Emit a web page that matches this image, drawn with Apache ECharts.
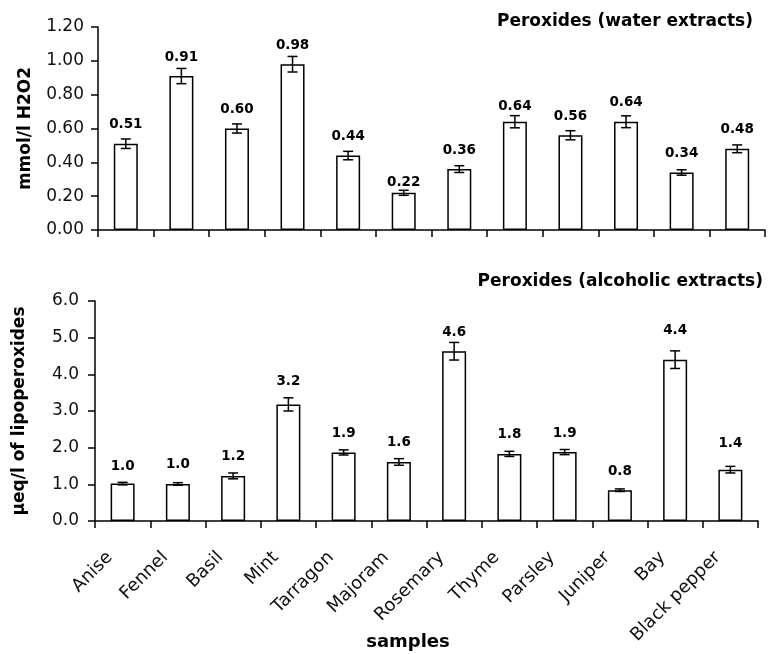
<!DOCTYPE html>
<html>
<head>
<meta charset="utf-8">
<script src="https://cdn.jsdelivr.net/npm/echarts@6/dist/echarts.min.js"></script>
<style>
html,body{margin:0;padding:0;background:#fff;}
#chart{width:768px;height:654px;}
</style>
</head>
<body>
<div id="chart"></div>
<script>
// ---- data ----
const categories = ['Anise','Fennel','Basil','Mint','Tarragon','Majoram','Rosemary','Thyme','Parsley','Juniper','Bay','Black pepper'];
const waterValues = [0.51, 0.91, 0.60, 0.98, 0.44, 0.22, 0.36, 0.64, 0.56, 0.64, 0.34, 0.48];
const waterErrors = [0.028, 0.045, 0.027, 0.046, 0.025, 0.015, 0.02, 0.036, 0.027, 0.035, 0.016, 0.023];
const alcoholValues = [1.02, 1.01, 1.23, 3.18, 1.87, 1.61, 4.63, 1.83, 1.88, 0.84, 4.40, 1.40];
const alcoholErrors = [0.035, 0.035, 0.08, 0.18, 0.07, 0.09, 0.24, 0.07, 0.07, 0.035, 0.24, 0.09];
const waterTicks = [0, 1.2, 0.2];   // min, max, interval
const alcoholTicks = [0, 6, 1];

// per-label vertical nudges (px) seen in the reference
const waterLabelNudge = {5: 9, 7: 4};
const alcoholLabelNudge = {0: 2, 3: -4, 10: -10, 11: -7};

const FONT = 'DejaVu Sans';
const chart = echarts.init(document.getElementById('chart'));

function barData(vals, nudge, digits) {
  return vals.map((v, i) => ({
    value: v,
    label: { offset: [0, nudge[i] || 0], formatter: () => v.toFixed(digits) }
  }));
}
function errData(vals, errs) {
  return vals.map((v, i) => [i, v, errs[i]]);
}
function errRender(params, api) {
  const x = api.value(0), y = api.value(1), e = api.value(2);
  const t = api.coord([x, y + e]);
  const b = api.coord([x, y - e]);
  const hw = 5;
  const st = { stroke: '#000', lineWidth: 1.5 };
  return {
    type: 'group',
    children: [
      { type: 'line', shape: { x1: t[0], y1: t[1], x2: b[0], y2: b[1] }, style: st },
      { type: 'line', shape: { x1: t[0] - hw, y1: t[1], x2: t[0] + hw, y2: t[1] }, style: st },
      { type: 'line', shape: { x1: b[0] - hw, y1: b[1], x2: b[0] + hw, y2: b[1] }, style: st }
    ]
  };
}

const axisLine = { show: true, lineStyle: { color: '#000', width: 1.5 } };
const axisTick = { show: true, length: 7, lineStyle: { color: '#000', width: 1.5 } };

const option = {
  backgroundColor: '#fff',
  animation: false,
  title: [
    { text: 'Peroxides (water extracts)', right: 15, top: 13, padding: 0,
      textStyle: { fontFamily: FONT, fontSize: 17, fontWeight: 'bold', color: '#000' } },
    { text: 'Peroxides (alcoholic extracts)', right: 5, top: 273, padding: 0,
      textStyle: { fontFamily: FONT, fontSize: 17, fontWeight: 'bold', color: '#000' } }
  ],
  grid: [
    { left: 98, right: 3, top: 27, height: 203, containLabel: false, outerBoundsMode: 'none' },
    { left: 95, right: 10, top: 301, height: 220, containLabel: false, outerBoundsMode: 'none' }
  ],
  xAxis: [
    { type: 'category', gridIndex: 0, data: categories, boundaryGap: true,
      axisLine: axisLine, axisTick: { ...axisTick, interval: 0 }, axisLabel: { show: false },
      splitLine: { show: false } },
    { type: 'category', gridIndex: 1, data: categories, boundaryGap: true,
      axisLine: axisLine, axisTick: { ...axisTick, interval: 0 },
      axisLabel: { interval: 0, rotate: 45, margin: 21, padding: [0, 18, 0, 0], fontFamily: FONT, fontSize: 18, color: '#111' },
      splitLine: { show: false },
      name: 'samples', nameLocation: 'middle', nameGap: 112, nameMoveOverlap: false,
      nameTextStyle: { fontFamily: FONT, fontSize: 18, fontWeight: 'bold', color: '#000', padding: [0, 37, 0, 0] } }
  ],
  yAxis: [
    { type: 'value', gridIndex: 0, min: waterTicks[0], max: waterTicks[1], interval: waterTicks[2],
      axisLine: axisLine, axisTick: axisTick, splitLine: { show: false },
      axisLabel: { margin: 14, fontFamily: FONT, fontSize: 17, color: '#111', formatter: v => v.toFixed(2) },
      name: 'mmol/l H2O2', nameLocation: 'middle', nameGap: 64, nameRotate: 90, nameMoveOverlap: false,
      nameTextStyle: { fontFamily: FONT, fontSize: 17, fontWeight: 'bold', color: '#000' } },
    { type: 'value', gridIndex: 1, min: alcoholTicks[0], max: alcoholTicks[1], interval: alcoholTicks[2],
      axisLine: axisLine, axisTick: axisTick, splitLine: { show: false },
      axisLabel: { margin: 16, fontFamily: FONT, fontSize: 17, color: '#111', formatter: v => v.toFixed(1) },
      name: 'µeq/l of lipoperoxides', nameLocation: 'middle', nameGap: 67, nameRotate: 90, nameMoveOverlap: false,
      nameTextStyle: { fontFamily: FONT, fontSize: 17, fontWeight: 'bold', color: '#000' } }
  ],
  series: [
    { type: 'bar', xAxisIndex: 0, yAxisIndex: 0, barWidth: 24,
      data: barData(waterValues, waterLabelNudge, 2),
      itemStyle: { color: '#fff', borderColor: '#000', borderWidth: 1.5 },
      label: { show: true, position: 'top', distance: 12, fontFamily: FONT, fontSize: 13.5, fontWeight: 'bold', color: '#000' } },
    { type: 'custom', xAxisIndex: 0, yAxisIndex: 0, renderItem: errRender,
      data: errData(waterValues, waterErrors), z: 5 },
    { type: 'bar', xAxisIndex: 1, yAxisIndex: 1, barWidth: 24,
      data: barData(alcoholValues, alcoholLabelNudge, 1),
      itemStyle: { color: '#fff', borderColor: '#000', borderWidth: 1.5 },
      label: { show: true, position: 'top', distance: 12, fontFamily: FONT, fontSize: 13.5, fontWeight: 'bold', color: '#000' } },
    { type: 'custom', xAxisIndex: 1, yAxisIndex: 1, renderItem: errRender,
      data: errData(alcoholValues, alcoholErrors), z: 5 }
  ]
};
chart.setOption(option);
</script>
</body>
</html>
